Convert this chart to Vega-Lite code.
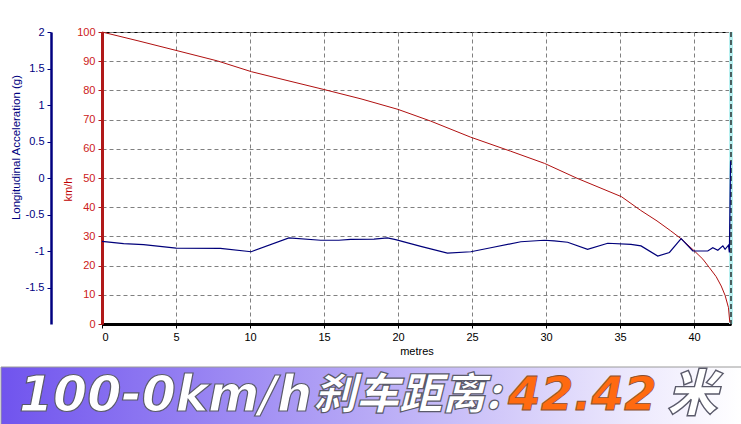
{
  "$schema": "https://vega.github.io/schema/vega-lite/v6.json",
  "background": "white",
  "padding": {"left": 0, "right": 0, "top": 25, "bottom": 0},
  "bounds": "flush",
  "spacing": 43,
  "config": {
    "view": {"stroke": null},
    "font": "Liberation Sans",
    "axis": {"labelFontSize": 11, "titleFontSize": 11, "titleFontWeight": "normal", "labelFont": "Liberation Sans", "titleFont": "Liberation Sans"}
  },
  "datasets": {
    "speed": [
      {"m": 0, "kmh": 100}, {"m": 2.5, "kmh": 96.9}, {"m": 5, "kmh": 93.7}, {"m": 7.8, "kmh": 90.1},
      {"m": 10.1, "kmh": 86.4}, {"m": 12.5, "kmh": 83.4}, {"m": 15, "kmh": 80.3}, {"m": 17.5, "kmh": 77.1},
      {"m": 20, "kmh": 73.5}, {"m": 22.2, "kmh": 69.5}, {"m": 24.9, "kmh": 64.0}, {"m": 27.6, "kmh": 59.2},
      {"m": 29.9, "kmh": 55.0}, {"m": 32.1, "kmh": 49.9}, {"m": 35.1, "kmh": 43.6}, {"m": 36.4, "kmh": 38.9},
      {"m": 37.5, "kmh": 35.3}, {"m": 38.4, "kmh": 32.0}, {"m": 39.13, "kmh": 29.2}, {"m": 40.03, "kmh": 25.0},
      {"m": 40.6, "kmh": 22.2}, {"m": 41.04, "kmh": 19.3}, {"m": 41.5, "kmh": 16.2}, {"m": 41.84, "kmh": 13.0},
      {"m": 42.1, "kmh": 9.8}, {"m": 42.33, "kmh": 5.6}, {"m": 42.42, "kmh": 0.5}
    ],
    "accel": [
      {"m": 0, "g": -0.867}, {"m": 1.46, "g": -0.9}, {"m": 2.81, "g": -0.914}, {"m": 5.01, "g": -0.96},
      {"m": 8.0, "g": -0.963}, {"m": 10.08, "g": -1.01}, {"m": 12.63, "g": -0.82}, {"m": 14.77, "g": -0.853},
      {"m": 16.0, "g": -0.853}, {"m": 16.8, "g": -0.84}, {"m": 18.38, "g": -0.836}, {"m": 19.28, "g": -0.82},
      {"m": 19.84, "g": -0.845}, {"m": 21.54, "g": -0.936}, {"m": 23.34, "g": -1.03}, {"m": 24.92, "g": -1.01},
      {"m": 26.27, "g": -0.955}, {"m": 28.3, "g": -0.873}, {"m": 29.88, "g": -0.853}, {"m": 30.55, "g": -0.86},
      {"m": 31.46, "g": -0.88}, {"m": 32.81, "g": -0.977}, {"m": 34.17, "g": -0.894}, {"m": 35.74, "g": -0.908},
      {"m": 36.42, "g": -0.93}, {"m": 37.55, "g": -1.07}, {"m": 38.34, "g": -1.02}, {"m": 39.13, "g": -0.83},
      {"m": 39.92, "g": -1.0}, {"m": 40.93, "g": -1.0}, {"m": 41.27, "g": -0.955}, {"m": 41.61, "g": -0.99},
      {"m": 41.95, "g": -0.93}, {"m": 42.1, "g": -0.977}, {"m": 42.33, "g": -0.92}, {"m": 42.39, "g": -1.02},
      {"m": 42.47, "g": 0.23}
    ],
    "banner": [
      {"part": "a", "text": "100-0km/h"},
      {"part": "b", "text": "刹车距离:"},
      {"part": "c", "text": "42.42"},
      {"part": "d", "text": "米"}
    ]
  },
  "vconcat": [
    {
      "width": 629,
      "height": 292,
      "view": {"stroke": "#000000", "strokeWidth": 1},
      "layer": [
        {
          "data": {"values": [{}]},
          "mark": {"type": "rule", "color": "#b8f0f0", "strokeWidth": 4},
          "encoding": {"x": {"datum": 42.5, "type": "quantitative"}}
        },
        {
          "data": {"values": [{}]},
          "mark": {"type": "rule", "color": "#000000", "strokeWidth": 1.2, "strokeDash": [5, 3]},
          "encoding": {"x": {"datum": 42.5, "type": "quantitative"}}
        },
        {
          "data": {"name": "speed"},
          "mark": {"type": "line", "color": "#b01010", "strokeWidth": 1},
          "encoding": {
            "x": {
              "field": "m", "type": "quantitative",
              "scale": {"domain": [0, 42.5], "nice": false, "zero": false},
              "axis": {
                "values": [0, 5, 10, 15, 20, 25, 30, 35, 40],
                "title": "metres", "titlePadding": 3,
                "grid": true, "gridDash": [4, 3], "gridColor": "#808080", "gridWidth": 1,
                "domainColor": "#000000", "domainWidth": 3,
                "tickColor": "#000000", "tickSize": 4, "labelPadding": 3,
                "labelColor": "#000000", "titleColor": "#000000"
              }
            },
            "y": {
              "field": "kmh", "type": "quantitative",
              "scale": {"domain": [0, 100], "nice": false},
              "axis": {
                "orient": "left",
                "values": [0, 10, 20, 30, 40, 50, 60, 70, 80, 90, 100],
                "title": "km/h", "titleColor": "#c00000", "titlePadding": 3, "titleY": 157,
                "labelColor": "#cc2020", "labelPadding": 3,
                "domainColor": "#b01818", "domainWidth": 3,
                "tickColor": "#b01818", "tickSize": 4,
                "grid": true, "gridDash": [4, 3], "gridColor": "#808080", "gridWidth": 1
              }
            }
          }
        },
        {
          "data": {"name": "accel"},
          "mark": {"type": "line", "color": "#00007a", "strokeWidth": 1.2},
          "encoding": {
            "x": {"field": "m", "type": "quantitative"},
            "y": {
              "field": "g", "type": "quantitative",
              "scale": {"domain": [-2, 2], "nice": false, "zero": false},
              "axis": {
                "orient": "left", "offset": 51,
                "values": [-1.5, -1, -0.5, 0, 0.5, 1, 1.5, 2],
                "labelExpr": "'' + datum.value",
                "title": "Longitudinal Acceleration (g)", "titleColor": "#000080", "titlePadding": 4, "titleY": 115,
                "titleFontSize": 11.5,
                "labelColor": "#000080", "labelPadding": 3,
                "domainColor": "#000080", "domainWidth": 2.5,
                "tickColor": "#000080", "tickSize": 4,
                "grid": false
              }
            }
          }
        }
      ],
      "resolve": {"scale": {"y": "independent"}, "axis": {"y": "independent"}}
    },
    {
      "width": 640,
      "height": 58,
      "layer": [
        {
          "data": {"values": [{}]},
          "mark": {
            "type": "rect",
            "stroke": "#9a9a9a", "strokeWidth": 1,
            "color": {
              "gradient": "linear", "x1": 0, "x2": 1, "y1": 0, "y2": 0,
              "stops": [
                {"offset": 0, "color": "#7054ee"},
                {"offset": 0.5, "color": "#b8aaf6"},
                {"offset": 0.85, "color": "#ece8fd"},
                {"offset": 1, "color": "#ffffff"}
              ]
            }
          },
          "encoding": {
            "x": {"datum": 0, "type": "quantitative", "scale": {"domain": [0.1363, 1], "nice": false, "zero": false}, "axis": null},
            "x2": {"datum": 1}
          }
        },
        {
          "data": {"name": "banner"},
          "transform": [{"filter": "datum.part === 'a'"}],
          "mark": {
            "type": "text", "align": "left", "baseline": "middle",
            "font": "DejaVu Sans", "fontSize": 49, "fontWeight": "bold", "fontStyle": "italic",
            "color": "#ffffff", "stroke": "#5a5a6a", "strokeWidth": 1.2
          },
          "encoding": {"x": {"datum": 0.0243, "type": "quantitative"}, "text": {"field": "text"}}
        },
        {
          "data": {"name": "banner"},
          "transform": [{"filter": "datum.part === 'b'"}],
          "mark": {
            "type": "text", "align": "left", "baseline": "middle",
            "font": "Noto Sans CJK SC", "fontSize": 43, "fontWeight": 900, "fontStyle": "italic",
            "color": "#ffffff", "stroke": "#5a5a6a", "strokeWidth": 1.2
          },
          "encoding": {"x": {"datum": 0.4214, "type": "quantitative"}, "text": {"field": "text"}}
        },
        {
          "data": {"name": "banner"},
          "transform": [{"filter": "datum.part === 'c'"}],
          "mark": {
            "type": "text", "align": "left", "baseline": "middle",
            "font": "DejaVu Sans", "fontSize": 47, "fontWeight": "bold", "fontStyle": "italic",
            "color": "#ff6a10", "stroke": "#8a5030", "strokeWidth": 0.8
          },
          "encoding": {"x": {"datum": 0.6842, "type": "quantitative"}, "text": {"field": "text"}}
        },
        {
          "data": {"name": "banner"},
          "transform": [{"filter": "datum.part === 'd'"}],
          "mark": {
            "type": "text", "align": "left", "baseline": "middle",
            "font": "Noto Sans CJK SC", "fontSize": 50, "fontWeight": 900, "fontStyle": "italic",
            "color": "#ffffff", "stroke": "#5a5a6a", "strokeWidth": 1.4
          },
          "encoding": {"x": {"datum": 0.899, "type": "quantitative"}, "text": {"field": "text"}}
        }
      ]
    }
  ]
}
